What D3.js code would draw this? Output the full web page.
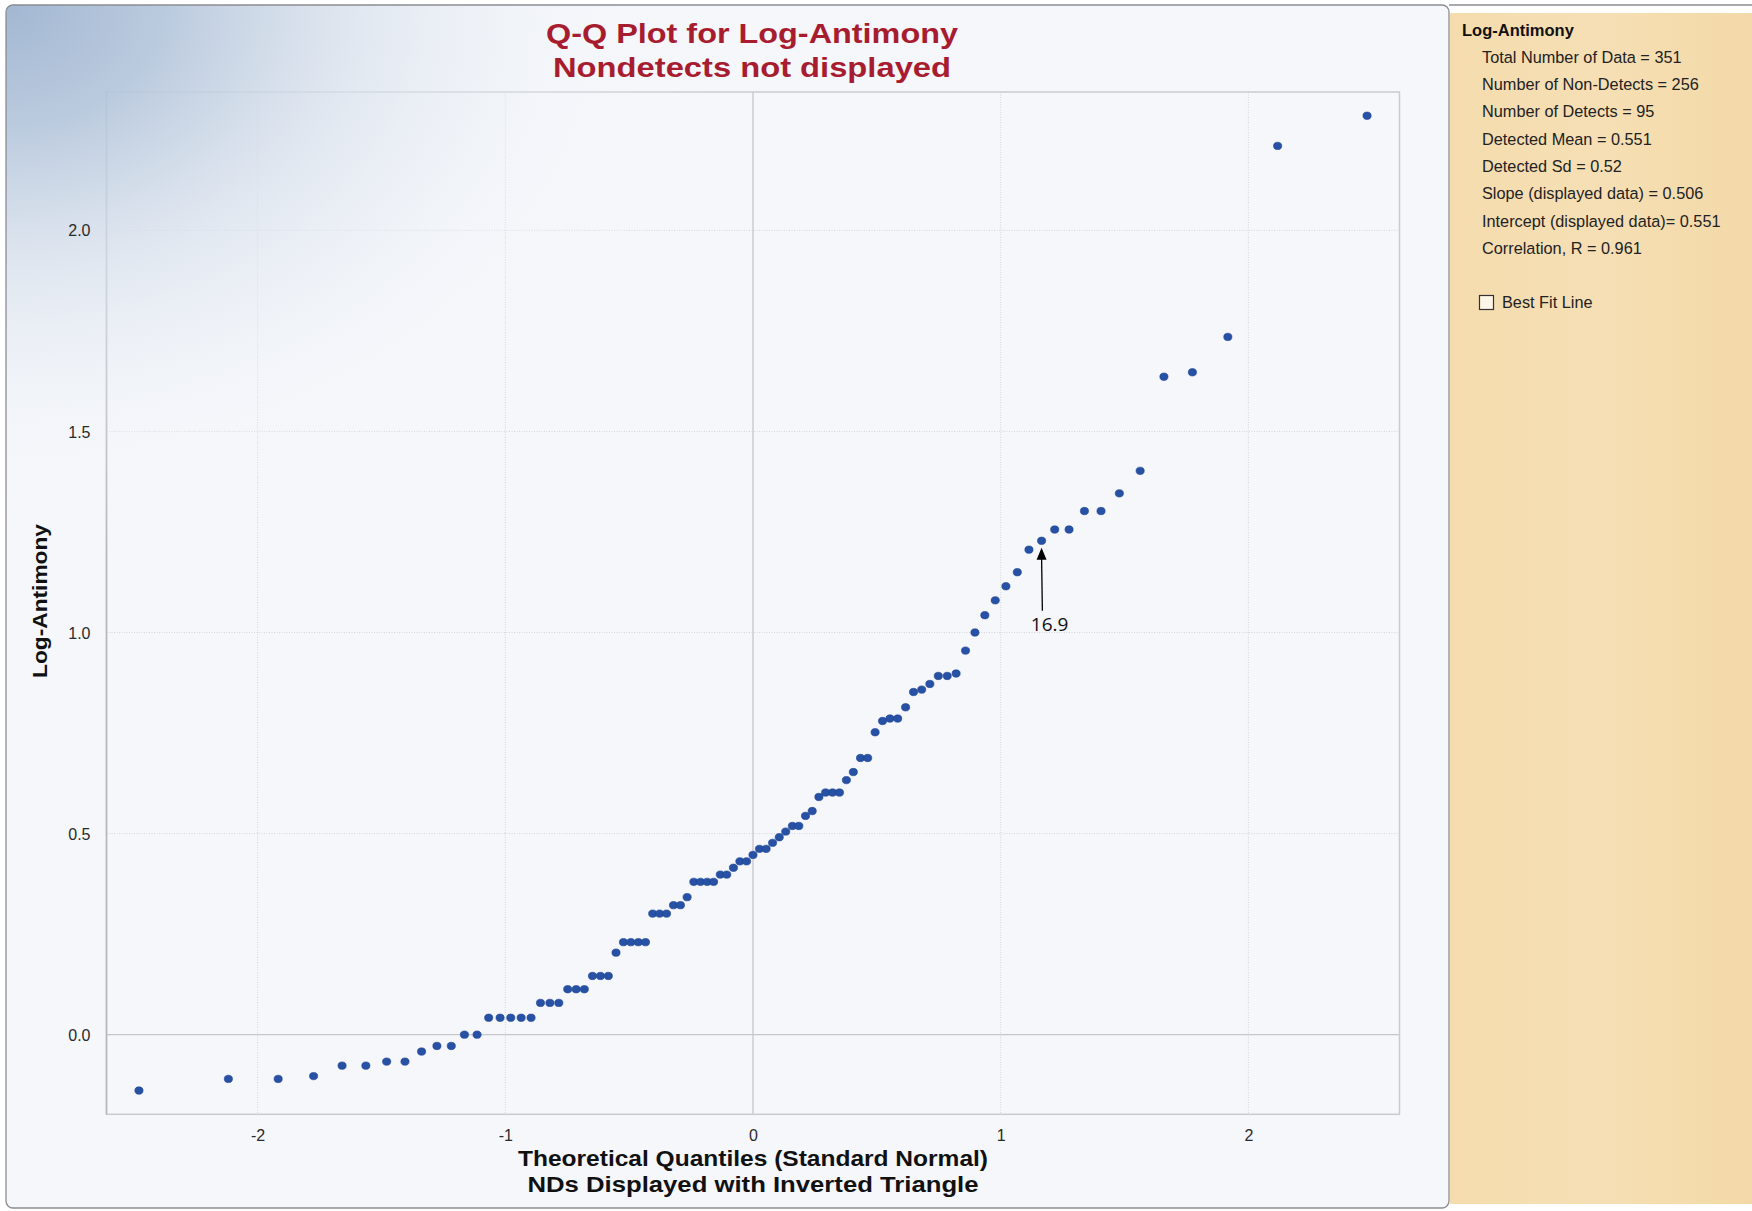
<!DOCTYPE html>
<html><head><meta charset="utf-8">
<script src="https://cdn.jsdelivr.net/npm/d3@7"></script>
<style>body{margin:0;background:#fff}svg{display:block}</style>
</head><body>
<svg id="chart" width="1752" height="1211"></svg>
<script>
// ---------------- data ----------------
const titleLines = ["Q-Q Plot for Log-Antimony", "Nondetects not displayed"];
const xTitleLines = ["Theoretical Quantiles (Standard Normal)", "NDs Displayed with Inverted Triangle"];
const yTitle = "Log-Antimony";
const xTicks = [-2, -1, 0, 1, 2];
const xTickLabels = ["-2", "-1", "0", "1", "2"];
const yTicks = [0, 0.5, 1.0, 1.5, 2.0];
const yTickLabels = ["0.0", "0.5", "1.0", "1.5", "2.0"];

// theoretical quantiles (standard normal) of the 95 detected values, read from the x positions
const theoreticalQuantiles = [
  -2.479, -2.118, -1.917, -1.774, -1.659, -1.563, -1.479, -1.405, -1.338, -1.276,
  -1.218, -1.165, -1.114, -1.067, -1.021, -0.978, -0.936, -0.896, -0.858, -0.820,
  -0.784, -0.748, -0.714, -0.681, -0.648, -0.616, -0.584, -0.553, -0.523, -0.493,
  -0.463, -0.434, -0.405, -0.377, -0.349, -0.321, -0.293, -0.266, -0.239, -0.212,
  -0.185, -0.159, -0.132, -0.106, -0.079, -0.053, -0.026, 0.000, 0.026, 0.053,
  0.079, 0.106, 0.132, 0.159, 0.185, 0.212, 0.239, 0.266, 0.293, 0.321,
  0.349, 0.377, 0.405, 0.434, 0.463, 0.493, 0.523, 0.553, 0.584, 0.616,
  0.648, 0.681, 0.714, 0.748, 0.784, 0.820, 0.858, 0.896, 0.936, 0.978,
  1.021, 1.067, 1.114, 1.165, 1.218, 1.276, 1.338, 1.405, 1.479, 1.563,
  1.659, 1.774, 1.917, 2.118, 2.479
];
// detected Log-Antimony values (sorted)
const logAntimony = [
  -0.139, -0.110, -0.110, -0.103, -0.077, -0.077, -0.067, -0.067, -0.042, -0.028,
  -0.028, 0.000, 0.000, 0.042, 0.042, 0.042, 0.042, 0.042, 0.079, 0.079,
  0.079, 0.113, 0.113, 0.113, 0.146, 0.146, 0.146, 0.204, 0.230, 0.230,
  0.230, 0.230, 0.301, 0.301, 0.301, 0.322, 0.322, 0.342, 0.380, 0.380,
  0.380, 0.380, 0.398, 0.398, 0.415, 0.431, 0.431, 0.447, 0.462, 0.462,
  0.477, 0.491, 0.505, 0.519, 0.519, 0.544, 0.556, 0.591, 0.602, 0.602,
  0.602, 0.633, 0.653, 0.688, 0.688, 0.752, 0.780, 0.786, 0.786, 0.814,
  0.852, 0.858, 0.872, 0.892, 0.892, 0.898, 0.955, 1.000, 1.043, 1.080,
  1.115, 1.150, 1.206, 1.228, 1.256, 1.256, 1.302, 1.302, 1.346, 1.402,
  1.636, 1.647, 1.735, 2.210, 2.285
];
const annotationIndex = 83;
const annotationLabel = "16.9";

const statsTitle = "Log-Antimony";
const statsLines = [
  "Total Number of Data = 351",
  "Number of Non-Detects = 256",
  "Number of Detects = 95",
  "Detected Mean = 0.551",
  "Detected Sd = 0.52",
  "Slope (displayed data) = 0.506",
  "Intercept (displayed data)= 0.551",
  "Correlation, R = 0.961"
];
const checkboxLabel = "Best Fit Line";

// ---------------- drawing ----------------
const svg = d3.select("#chart");
const defs = svg.append("defs");

const glare = defs.append("radialGradient").attr("id", "glare")
  .attr("gradientUnits", "userSpaceOnUse").attr("cx", 6).attr("cy", 5).attr("r", 700)
  .attr("gradientTransform", "translate(6,5) scale(1.05,0.8) translate(-6,-5)");
[[0, "#a2b7d2", 1], [0.22, "#b6c7dc", 0.92], [0.48, "#d9e1ec", 0.7], [0.75, "#eef2f7", 0.3], [1, "#f5f7fb", 0]]
  .forEach(([o, c, a]) => glare.append("stop").attr("offset", o).attr("stop-color", c).attr("stop-opacity", a));

const tanGrad = defs.append("linearGradient").attr("id", "tan").attr("x1", 0).attr("x2", 1).attr("y1", 0).attr("y2", 0);
tanGrad.append("stop").attr("offset", 0).attr("stop-color", "#f4dcae");
tanGrad.append("stop").attr("offset", 0.5).attr("stop-color", "#f6dfb4");
tanGrad.append("stop").attr("offset", 1).attr("stop-color", "#f3d9a8");

defs.append("clipPath").attr("id", "panelClip").append("rect")
  .attr("x", 6).attr("y", 5).attr("width", 1443).attr("height", 1203).attr("rx", 7);

// panel
svg.append("rect").attr("x", 6).attr("y", 5).attr("width", 1443).attr("height", 1203).attr("rx", 7)
  .attr("fill", "#f5f7fb");
// tan stats panel
svg.append("rect").attr("x", 1450).attr("y", 13).attr("width", 302).attr("height", 1191).attr("fill", "url(#tan)");

const x = d3.scaleLinear().domain([-2.61, 2.61]).range([106.5, 1399.5]);
const y = d3.scaleLinear().domain([-0.198, 2.344]).range([1114.3, 92]);

const plot = svg.append("g");
// grid
plot.selectAll("line.vg").data(xTicks).join("line")
  .attr("x1", d => x(d)).attr("x2", d => x(d)).attr("y1", y.range()[1]).attr("y2", y.range()[0])
  .attr("stroke", d => d === 0 ? "#c3c6ca" : "#d3d6da")
  .attr("stroke-width", d => d === 0 ? 1.3 : 1)
  .attr("stroke-dasharray", d => d === 0 ? null : "1,1.5");
plot.selectAll("line.hg").data(yTicks).join("line")
  .attr("y1", d => y(d)).attr("y2", d => y(d)).attr("x1", x.range()[0]).attr("x2", x.range()[1])
  .attr("stroke", d => d === 0 ? "#c3c6ca" : "#d3d6da")
  .attr("stroke-width", d => d === 0 ? 1.3 : 1)
  .attr("stroke-dasharray", d => d === 0 ? null : "1,1.5");
// frame
plot.append("rect").attr("x", x.range()[0]).attr("y", y.range()[1])
  .attr("width", x.range()[1] - x.range()[0]).attr("height", y.range()[0] - y.range()[1])
  .attr("fill", "none").attr("stroke", "#c8cbcf").attr("stroke-width", 1.5);
plot.append("line").attr("x1", x.range()[0]).attr("x2", x.range()[0]).attr("y1", y.range()[1]).attr("y2", y.range()[0])
  .attr("stroke", "#b4b8bd").attr("stroke-width", 1.5);

// glare overlay in top-left corner
svg.append("rect").attr("x", 6).attr("y", 5).attr("width", 1443).attr("height", 1203)
  .attr("clip-path", "url(#panelClip)").attr("fill", "url(#glare)");

// axes (labels only)
const xAxis = d3.axisBottom(x).tickValues(xTicks).tickSize(0).tickPadding(0)
  .tickFormat((d, i) => xTickLabels[i]);
const gx = svg.append("g").attr("transform", `translate(0,${y.range()[0]})`).call(xAxis);
gx.select(".domain").remove();
gx.selectAll("text").attr("y", 27).attr("dy", 0).attr("font-family", "Liberation Sans, Arial, sans-serif")
  .attr("font-size", 16).attr("fill", "#2a2a2a");

const yAxis = d3.axisLeft(y).tickValues(yTicks).tickSize(0).tickPadding(0)
  .tickFormat((d, i) => yTickLabels[i]);
const gy = svg.append("g").attr("transform", `translate(${x.range()[0]},0)`).call(yAxis);
gy.select(".domain").remove();
gy.selectAll("text").attr("x", -16).attr("dy", "0.35em").attr("font-family", "Liberation Sans, Arial, sans-serif")
  .attr("font-size", 16).attr("fill", "#2a2a2a");

// points
svg.append("g").selectAll("ellipse").data(logAntimony).join("ellipse")
  .attr("cx", (d, i) => x(theoreticalQuantiles[i])).attr("cy", d => y(d))
  .attr("rx", 4.1).attr("ry", 3.7).attr("fill", "#2651a5").attr("stroke", "#1d4290").attr("stroke-width", 0.6);

// annotation
const ax = x(theoreticalQuantiles[annotationIndex]);
const ay = y(logAntimony[annotationIndex]);
svg.append("line").attr("x1", ax + 0.8).attr("x2", ax).attr("y1", ay + 70).attr("y2", ay + 16)
  .attr("stroke", "#000").attr("stroke-width", 1.3);
svg.append("path").attr("d", `M${ax},${ay + 7} L${ax - 5},${ay + 19} L${ax + 5},${ay + 19} Z`).attr("fill", "#000");
svg.append("text").attr("x", ax + 8).attr("y", ay + 90).attr("text-anchor", "middle")
  .attr("font-family", "Open Sans, Liberation Sans, sans-serif").attr("font-size", 19).attr("fill", "#111")
  .text(annotationLabel);

// titles
const titleG = svg.append("g").attr("font-family", "Liberation Sans, Arial, sans-serif").attr("font-weight", "bold");
titleG.selectAll("text.t").data(titleLines).join("text")
  .attr("x", 752).attr("y", (d, i) => 43 + i * 33.5).attr("text-anchor", "middle")
  .attr("font-size", 27).attr("fill", "#a81c30")
  .attr("textLength", (d, i) => [412, 398][i]).attr("lengthAdjust", "spacingAndGlyphs")
  .text(d => d);
titleG.selectAll("text.xt").data(xTitleLines).join("text")
  .attr("x", 753).attr("y", (d, i) => 1166 + i * 26).attr("text-anchor", "middle")
  .attr("font-size", 22).attr("fill", "#111")
  .attr("textLength", (d, i) => [470, 451][i]).attr("lengthAdjust", "spacingAndGlyphs")
  .text(d => d);
titleG.append("text").attr("transform", "translate(47,601) rotate(-90)").attr("text-anchor", "middle")
  .attr("font-size", 21).attr("fill", "#111").attr("textLength", 154).attr("lengthAdjust", "spacingAndGlyphs")
  .text(yTitle);

// stats panel
const sg = svg.append("g").attr("font-family", "Liberation Sans, Arial, sans-serif");
sg.append("text").attr("x", 1462).attr("y", 36).attr("font-weight", "bold").attr("font-size", 16.5)
  .attr("fill", "#111").text(statsTitle);
sg.selectAll("text.s").data(statsLines).join("text")
  .attr("x", 1482).attr("y", (d, i) => 62.8 + i * 27.3).attr("font-size", 16.3).attr("fill", "#222")
  .text(d => d);
sg.append("rect").attr("x", 1479.5).attr("y", 295.5).attr("width", 14).attr("height", 14)
  .attr("fill", "#fcf5e8").attr("stroke", "#333").attr("stroke-width", 1.2);
sg.append("text").attr("x", 1502).attr("y", 307.5).attr("font-size", 16.3).attr("fill", "#222").text(checkboxLabel);

// panel borders
svg.append("rect").attr("x", 6).attr("y", 5).attr("width", 1443).attr("height", 1203).attr("rx", 7)
  .attr("fill", "none").attr("stroke", "#8a8d92").attr("stroke-width", 1.3);
svg.append("line").attr("x1", 1449).attr("x2", 1752).attr("y1", 5).attr("y2", 5).attr("stroke", "#8a8d92").attr("stroke-width", 1.3);
</script>
</body></html>
